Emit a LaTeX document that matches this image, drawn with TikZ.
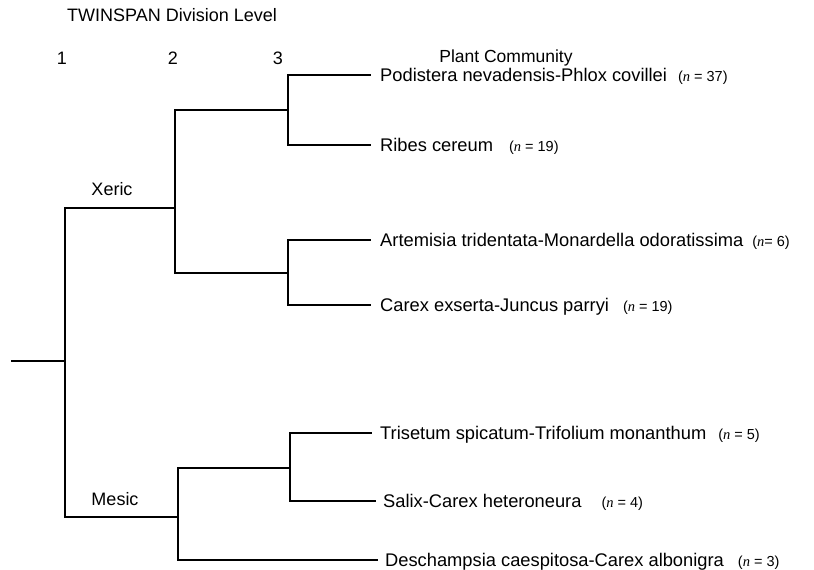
\documentclass[tikz,border=0pt]{standalone}
\usepackage{fontspec}
\setmainfont{Liberation Sans}
\newfontfamily\serifit{Liberation Serif}
\newcommand{\cnt}[2]{\hspace*{#1pt}{\fontsize{14.5}{16}\selectfont({\serifit\itshape n}#2)}}
\begin{document}
\begin{tikzpicture}[x=1pt,y=-1pt,
  branch/.style={line width=1.3pt, black, line cap=rect},
  leaf/.style={anchor=west, inner sep=0pt, text height=13pt, text depth=0pt,
    font=\fontsize{18.3}{21}\selectfont},
  head/.style={inner sep=0pt, font=\fontsize{18}{21}\selectfont},
  grp/.style={inner sep=0pt, font=\fontsize{18}{21}\selectfont}]
\useasboundingbox (0,0) rectangle (814,570);

% headers
\node[head, anchor=west] (title) at (67,15) {TWINSPAN Division Level};
\node[head] (lv1) at (62,58) {1};
\node[head] (lv2) at (173,58) {2};
\node[head] (lv3) at (278,58) {3};
\node[head, font=\fontsize{17.5}{20}\selectfont] (pc) at (506,58) {Plant Community};

% group labels
\node[grp] (xeric) at (112,189) {Xeric};
\node[grp] (mesic) at (115,499) {Mesic};

% junctions
\coordinate (start) at (12,361);
\coordinate (root) at (65,361);
\coordinate (jx) at (175,208);
\coordinate (jxa) at (288,110);
\coordinate (jxb) at (288,273);
\coordinate (jm) at (178,517);
\coordinate (jma) at (290,468);

% leaves
\node[leaf] (l1) at (380,75) {Podistera nevadensis-Phlox covillei\cnt{11}{ = 37}};
\node[leaf] (l2) at (380,145) {Ribes cereum\cnt{16}{ = 19}};
\node[leaf] (l3) at (380,240) {Artemisia tridentata-Monardella odoratissima\cnt{9}{= 6}};
\node[leaf] (l4) at (380,305) {Carex exserta-Juncus parryi\cnt{14}{ = 19}};
\node[leaf] (l5) at (380,433) {Trisetum spicatum-Trifolium monanthum\cnt{12}{ = 5}};
\node[leaf] (l6) at (383,501) {Salix-Carex heteroneura\cnt{20}{ = 4}};
\node[leaf] (l7) at (385,560) {Deschampsia caespitosa-Carex albonigra\cnt{14}{ = 3}};

% tree
\draw[branch] (start) -- (root);
\draw[branch] (root) |- (jx);
\draw[branch] (root) |- (jm);
\draw[branch] (jx) |- (jxa);
\draw[branch] (jx) |- (jxb);
\draw[branch] (jxa) |- ([xshift=-10pt]l1.west);
\draw[branch] (jxa) |- ([xshift=-10pt]l2.west);
\draw[branch] (jxb) |- ([xshift=-10pt]l3.west);
\draw[branch] (jxb) |- ([xshift=-10pt]l4.west);
\draw[branch] (jm) |- (jma);
\draw[branch] (jm) |- ([xshift=-8pt]l7.west);
\draw[branch] (jma) |- ([xshift=-9pt]l5.west);
\draw[branch] (jma) |- ([xshift=-8pt]l6.west);
\end{tikzpicture}
\end{document}
